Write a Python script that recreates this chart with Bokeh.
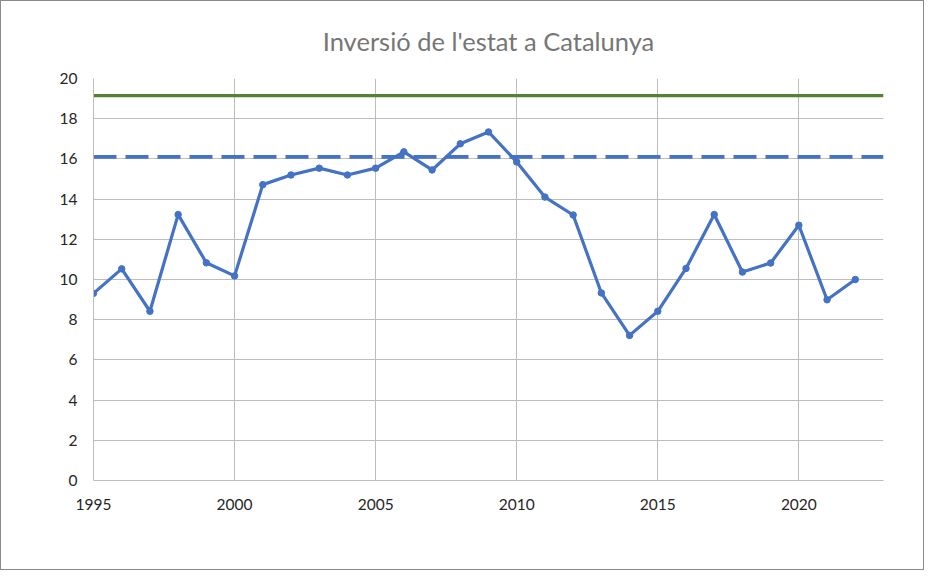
from bokeh.plotting import figure
from bokeh.models import Range1d, FixedTicker, Title
from bokeh.embed import file_html
from bokeh.resources import INLINE

# ---- data ----
years = list(range(1995, 2023))
inversio = [9.31, 10.53, 8.42, 13.23, 10.83, 10.18, 14.72, 15.20, 15.54, 15.20,
            15.54, 16.35, 15.45, 16.75, 17.34, 15.85, 14.10, 13.21, 9.33, 7.22,
            8.42, 10.55, 13.23, 10.37, 10.82, 12.70, 8.99, 10.00]
ref_green = 19.15
ref_dashed = 16.1
x_limits = [1995, 2023]
y_limits = [0, 20]
x_ticks = [1995, 2000, 2005, 2010, 2015, 2020]
y_ticks = [0, 2, 4, 6, 8, 10, 12, 14, 16, 18, 20]
title_text = "Inversió de l'estat a Catalunya"

BLUE = "#4472C4"
GREEN = "#548235"
GRID = "#bdbdbd"
FONT = "Lato"

p = figure(width=924, height=570, output_backend="svg", toolbar_location=None,
           x_range=Range1d(*x_limits), y_range=Range1d(*y_limits),
           min_border_left=92, min_border_right=42, min_border_top=74, min_border_bottom=91)
p.styles = {"border": "1px solid #8a8a8a", "box-sizing": "border-box"}
p.outline_line_color = None
p.background_fill_color = "white"
p.border_fill_color = "white"

t = Title(text=title_text, align="center", vertical_align="bottom", text_font=FONT,
          text_font_size="25.5px", text_color="#767676", text_font_style="normal",
          standoff=45)
p.add_layout(t, "above")

# reference lines
p.line(x_limits, [ref_green, ref_green], line_color=GREEN, line_width=3.2)
p.line(x_limits, [ref_dashed, ref_dashed], line_color=BLUE, line_width=3.6, line_dash="23 9")

# main series
p.line(years, inversio, line_color=BLUE, line_width=3.2, line_join="round")
p.scatter(years, inversio, size=6.5, fill_color=BLUE, line_color=BLUE)

# axes
p.xaxis.ticker = FixedTicker(ticks=x_ticks)
p.yaxis.ticker = FixedTicker(ticks=y_ticks)
for ax in (p.xaxis[0], p.yaxis[0]):
    ax.major_tick_line_color = None
    ax.minor_tick_line_color = None
    ax.major_tick_out = 0
    ax.major_tick_in = 0
    ax.minor_tick_out = 0
    ax.minor_tick_in = 0
    ax.major_label_text_font = FONT
    ax.major_label_text_font_size = "15.5px"
    ax.major_label_text_color = "#262626"
p.xaxis.major_label_standoff = 18
p.yaxis.major_label_standoff = 16
p.xaxis.axis_line_color = GRID
p.xaxis.axis_line_width = 1
p.yaxis.axis_line_color = GRID
p.xgrid.ticker = FixedTicker(ticks=x_ticks)
p.ygrid.ticker = FixedTicker(ticks=y_ticks)
p.xgrid.grid_line_color = GRID
p.ygrid.grid_line_color = GRID

open("out.html", "w").write(file_html(p, INLINE))
